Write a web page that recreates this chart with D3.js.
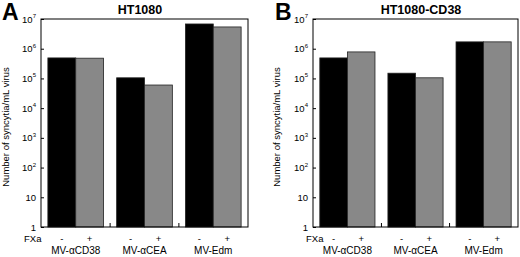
<!DOCTYPE html>
<html><head><meta charset="utf-8">
<script src="https://cdn.jsdelivr.net/npm/d3@7"></script>
<style>body{margin:0;background:#fff}svg{display:block}</style>
</head><body>
<svg id="c" width="520" height="257"></svg>
<script>
const groups = ["MV-\u03b1CD38", "MV-\u03b1CEA", "MV-Edm"];
const conditions = ["-", "+"];
const valuesA_minus = [4.9e5, 1.05e5, 6.8e6];
const valuesA_plus  = [4.8e5, 6.0e4, 5.4e6];
const valuesB_minus = [4.9e5, 1.5e5, 1.7e6];
const valuesB_plus  = [7.8e5, 1.05e5, 1.7e6];
const yTicks = [1, 10, 100, 1e3, 1e4, 1e5, 1e6, 1e7];
const tickLabels = [["1",""],["10",""],["10","2"],["10","3"],["10","4"],["10","5"],["10","6"],["10","7"]];
const panels = [
  {letter:"A", title:"HT1080", minus:valuesA_minus, plus:valuesA_plus, left:41, right:248, letterX:2, titleX:140, ylabX:9, fxaX:24},
  {letter:"B", title:"HT1080-CD38", minus:valuesB_minus, plus:valuesB_plus, left:313, right:518, letterX:275, titleX:421, ylabX:280, fxaX:306}
];
const plotTop = 19, plotBottom = 227;
const svg = d3.select("#c");
const font = "Liberation Sans, Arial, sans-serif";

panels.forEach(p => {
  const g = svg.append("g");
  const y = d3.scaleLog().domain([1, 1e7]).range([plotBottom, plotTop]);
  const x0 = d3.scaleBand().domain(groups).range([p.left, p.right]).paddingInner(0.19).paddingOuter(0.1);
  const x1 = d3.scaleBand().domain(conditions).range([0, x0.bandwidth()]);
  const data = [];
  groups.forEach((gr, i) => {
    data.push({g: gr, c: "-", v: p.minus[i]});
    data.push({g: gr, c: "+", v: p.plus[i]});
  });
  g.selectAll("rect.bar").data(data).enter().append("rect")
    .attr("class", "bar")
    .attr("x", d => x0(d.g) + x1(d.c))
    .attr("width", x1.bandwidth())
    .attr("y", d => y(d.v))
    .attr("height", d => plotBottom - y(d.v))
    .attr("fill", d => d.c === "-" ? "#000" : "#888")
    .attr("stroke", "#222").attr("stroke-width", 0.8);
  g.append("rect").attr("x", p.left).attr("y", plotTop).attr("width", p.right - p.left).attr("height", plotBottom - plotTop)
    .attr("fill", "none").attr("stroke", "#000").attr("stroke-width", 1);
  const ya = d3.axisRight(y).tickValues(yTicks).tickSize(3).tickFormat("");
  g.append("g").attr("transform", `translate(${p.left},0)`).call(ya)
    .call(s => s.select(".domain").remove())
    .selectAll("line").attr("stroke", "#000");
  yTicks.forEach((t, i) => {
    const lab = tickLabels[i];
    const tx = g.append("text").attr("x", p.left - 5).attr("y", y(t) + 3.5)
      .attr("text-anchor", "end").attr("font-family", font).attr("font-size", 9.5).attr("fill", "#000");
    tx.append("tspan").text(lab[0]);
    if (lab[1]) tx.append("tspan").attr("dy", -4.5).attr("font-size", 6).text(lab[1]);
  });
  for (let i = 1; i < groups.length; i++) {
    const sx = (x0(groups[i - 1]) + x0.bandwidth() + x0(groups[i])) / 2;
    g.append("line").attr("x1", sx).attr("x2", sx).attr("y1", plotBottom).attr("y2", plotBottom - 4).attr("stroke", "#000");
  }
  g.append("text").attr("x", p.fxaX).attr("y", 242).attr("font-family", font).attr("font-size", 9.5).text("FXa");
  groups.forEach(gr => {
    conditions.forEach(c => {
      g.append("text").attr("x", x0(gr) + x1(c) + x1.bandwidth() / 2).attr("y", 242)
        .attr("text-anchor", "middle").attr("font-family", font).attr("font-size", 9.5).text(c);
    });
    g.append("text").attr("x", x0(gr) + x0.bandwidth() / 2).attr("y", 254)
      .attr("text-anchor", "middle").attr("font-family", font).attr("font-size", 10).text(gr);
  });
  g.append("text").attr("transform", `translate(${p.ylabX},127) rotate(-90)`)
    .attr("text-anchor", "middle").attr("font-family", font).attr("font-size", 9.5).text("Number of syncytia/mL virus");
  g.append("text").attr("x", p.titleX).attr("y", 14).attr("text-anchor", "middle")
    .attr("font-family", font).attr("font-weight", "bold").attr("font-size", 12.5).text(p.title);
  g.append("text").attr("x", p.letterX).attr("y", 20).attr("font-family", font)
    .attr("font-weight", "bold").attr("font-size", 23).text(p.letter);
});
</script>
</body></html>
